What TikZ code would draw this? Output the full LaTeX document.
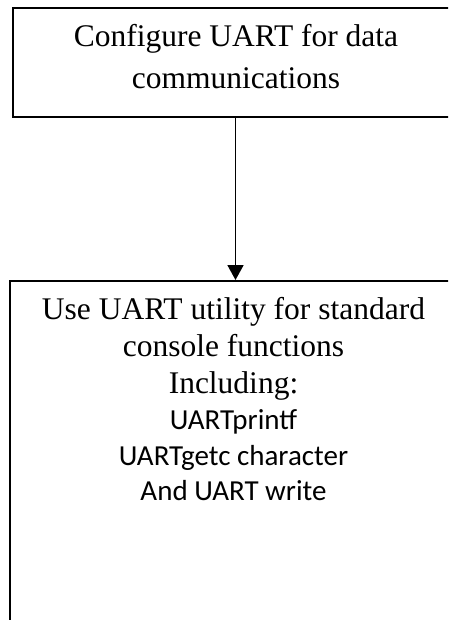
\documentclass[tikz,border=0pt]{standalone}
\usepackage{fontspec}
\setmainfont{Liberation Serif}
\newfontfamily\calibrifont{Carlito}
\usetikzlibrary{arrows.meta}

\tikzset{
  box/.style={draw=black, line width=2pt, inner sep=0pt, anchor=north west},
  flow/.style={draw=black, line width=1.8pt, -{Triangle[length=15pt,width=16pt]}},
  serifline/.style={anchor=base, inner sep=0pt, font=\fontsize{31.5}{37}\selectfont},
  sansline/.style={anchor=base, inner sep=0pt, font=\calibrifont\fontsize{29}{35}\selectfont},
}

\begin{document}
\begin{tikzpicture}[x=1pt, y=-1pt]
  \useasboundingbox (0,0) rectangle (448,620);
  \clip (0,0) rectangle (448,620);

  % process boxes (both run past the right edge, the lower one past the bottom)
  \node[box, minimum width=445pt, minimum height=109pt] (cfg) at (12,7) {};
  \node[box, minimum width=451pt, minimum height=420pt] (use) at (9,280) {};

  % text of the first box
  \node[serifline] (cfgA) at (236,47) {Configure UART for data};
  \node[serifline] (cfgB) at (236,89) {communications};

  % text of the second box
  \node[serifline] (useA) at (233.5,319) {Use UART utility for standard};
  \node[serifline] (useB) at (233.5,356) {console functions};
  \node[serifline] (useC) at (233.5,393) {Including:};
  \node[sansline]  (useD) at (233.5,429) {UARTprintf};
  \node[sansline]  (useE) at (233.5,465) {UARTgetc character};
  \node[sansline]  (useF) at (233.5,500) {And UART write};

  % connector
  \draw[flow] (cfg.south) -- (use.north);
\end{tikzpicture}
\end{document}
